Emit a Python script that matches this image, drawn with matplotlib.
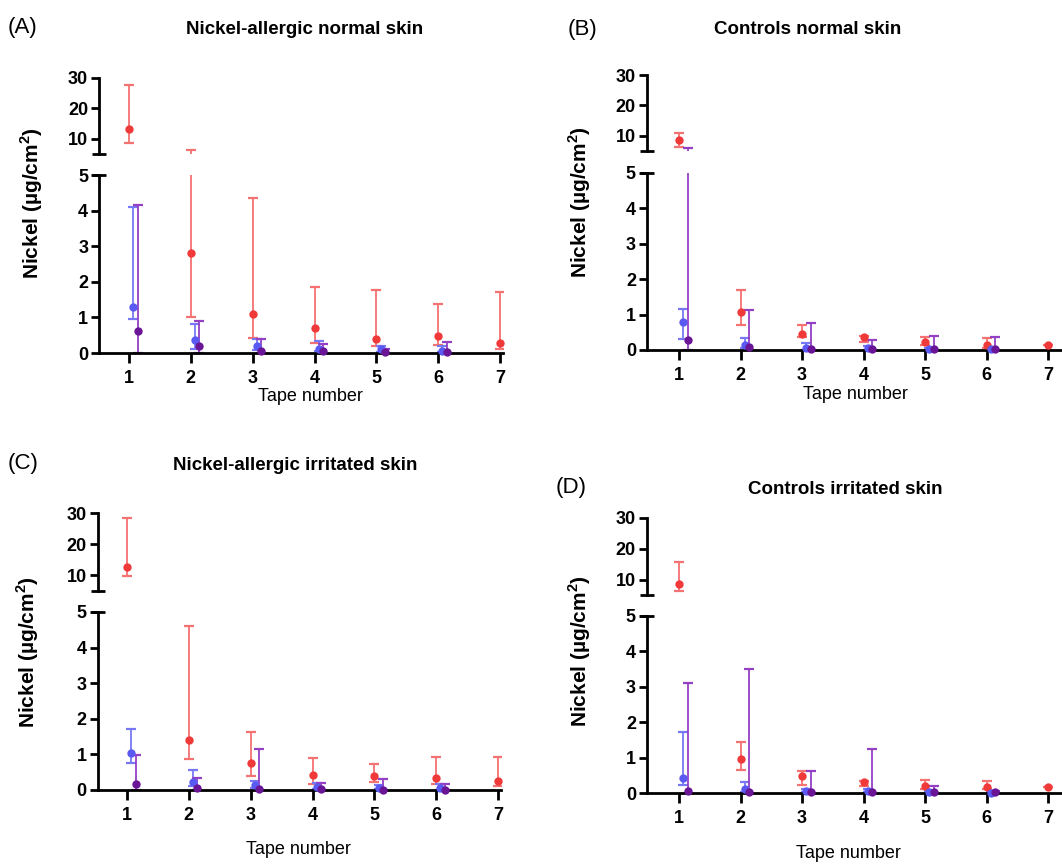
import matplotlib
matplotlib.use("Agg")
import matplotlib.pyplot as plt
import numpy as np

plt.rcParams['font.family'] = ['Liberation Sans', 'DejaVu Sans']
plt.rcParams['mathtext.fontset'] = 'custom'
plt.rcParams['mathtext.rm'] = 'Liberation Sans'
plt.rcParams['mathtext.bf'] = 'Liberation Sans:bold'

# ---------------- data (median, lower, upper) ----------------
tapes_red = [1, 2, 3, 4, 5, 6, 7]
tapes_other = [1, 2, 3, 4, 5, 6]

# Panel A: Nickel-allergic normal skin
A_red = [13.2, 2.80, 1.09, 0.70, 0.39, 0.47, 0.28]
A_red_lo = [8.6, 1.00, 0.43, 0.29, 0.20, 0.22, 0.12]
A_red_hi = [27.8, 6.3, 4.34, 1.86, 1.76, 1.38, 1.70]
A_blue = [1.29, 0.36, 0.20, 0.12, 0.10, 0.07]
A_blue_lo = [0.95, 0.10, 0.08, 0.05, 0.03, 0.02]
A_blue_hi = [4.10, 0.81, 0.38, 0.33, 0.20, 0.20]
A_purp = [0.61, 0.19, 0.07, 0.05, 0.04, 0.04]
A_purp_lo = [0.0, 0.0, 0.0, 0.0, 0.0, 0.0]
A_purp_hi = [4.17, 0.90, 0.40, 0.24, 0.12, 0.31]

# Panel B: Controls normal skin
B_red = [8.7, 1.08, 0.46, 0.38, 0.24, 0.14, 0.13]
B_red_lo = [6.3, 0.72, 0.36, 0.22, 0.15, 0.05, 0.13]
B_red_hi = [10.9, 1.70, 0.72, 0.40, 0.36, 0.33, 0.13]
B_blue = [0.80, 0.15, 0.06, 0.05, 0.03, 0.02]
B_blue_lo = [0.32, 0.05, 0.0, 0.0, 0.0, 0.0]
B_blue_hi = [1.17, 0.35, 0.20, 0.10, 0.06, 0.05]
B_purp = [0.28, 0.09, 0.04, 0.03, 0.02, 0.02]
B_purp_lo = [0.0, 0.0, 0.0, 0.0, 0.0, 0.0]
B_purp_hi = [6.0, 1.13, 0.75, 0.28, 0.39, 0.36]

# Panel C: Nickel-allergic irritated skin
C_red = [12.7, 1.40, 0.75, 0.42, 0.38, 0.33, 0.24]
C_red_lo = [9.7, 0.88, 0.39, 0.17, 0.23, 0.17, 0.12]
C_red_hi = [28.4, 4.62, 1.64, 0.91, 0.72, 0.92, 0.93]
C_blue = [1.05, 0.23, 0.14, 0.08, 0.07, 0.05]
C_blue_lo = [0.77, 0.10, 0.05, 0.02, 0.02, 0.01]
C_blue_hi = [1.72, 0.56, 0.25, 0.20, 0.15, 0.18]
C_purp = [0.16, 0.05, 0.03, 0.02, 0.01, 0.01]
C_purp_lo = [0.0, 0.0, 0.0, 0.0, 0.0, 0.0]
C_purp_hi = [0.98, 0.35, 1.14, 0.20, 0.31, 0.18]

# Panel D: Controls irritated skin
D_red = [8.5, 0.96, 0.47, 0.30, 0.19, 0.18, 0.17]
D_red_lo = [6.2, 0.64, 0.23, 0.19, 0.10, 0.10, 0.17]
D_red_hi = [15.6, 1.44, 0.61, 0.35, 0.38, 0.35, 0.17]
D_blue = [0.41, 0.10, 0.07, 0.07, 0.02, 0.01]
D_blue_lo = [0.23, 0.03, 0.02, 0.02, 0.0, 0.0]
D_blue_hi = [1.71, 0.30, 0.10, 0.10, 0.05, 0.04]
D_purp = [0.07, 0.04, 0.04, 0.03, 0.03, 0.03]
D_purp_lo = [0.0, 0.0, 0.0, 0.0, 0.0, 0.0]
D_purp_hi = [3.12, 3.50, 0.63, 1.25, 0.19, 0.05]

titles = ["Nickel-allergic normal skin", "Controls normal skin",
          "Nickel-allergic irritated skin", "Controls irritated skin"]
letters = ["(A)", "(B)", "(C)", "(D)"]
xtick_labels = ["1", "2", "3", "4", "5", "6", "7"]
top_ticks = [10, 20, 30]
bot_ticks = [0, 1, 2, 3, 4, 5]

RED_M, RED_E = '#F03A3A', '#F47272'
BLUE_M, BLUE_E = '#5A5AF2', '#7878F4'
PURP_M, PURP_E = '#6A1596', '#9340C4'

W, H = 1062, 864
fig = plt.figure(figsize=(W / 100, H / 100), dpi=100)


def fx(px):
    return px / W


def fy(py):
    return 1 - py / H


panels = [
    dict(x1=129, x7=500, xlim=(0.52, 7.05), top30=78, top5=154, bot5=175, bot0=353,
         red=(A_red, A_red_lo, A_red_hi), blue=(A_blue, A_blue_lo, A_blue_hi),
         purp=(A_purp, A_purp_lo, A_purp_hi),
         ylab=(32, 203), xlab=(310, 397), letter=(8, 28), title=(305, 30)),
    dict(x1=679, x7=1048, xlim=(0.48, 7.23), top30=75, top5=151, bot5=173, bot0=350,
         red=(B_red, B_red_lo, B_red_hi), blue=(B_blue, B_blue_lo, B_blue_hi),
         purp=(B_purp, B_purp_lo, B_purp_hi),
         ylab=(580, 202), xlab=(855, 394), letter=(568, 30), title=(808, 30)),
    dict(x1=127, x7=498, xlim=(0.53, 7.05), top30=513, top5=591, bot5=612, bot0=790,
         red=(C_red, C_red_lo, C_red_hi), blue=(C_blue, C_blue_lo, C_blue_hi),
         purp=(C_purp, C_purp_lo, C_purp_hi),
         ylab=(28, 652), xlab=(298, 849), letter=(8, 463), title=(295, 465)),
    dict(x1=679, x7=1048, xlim=(0.48, 7.23), top30=518, top5=595, bot5=616, bot0=793,
         red=(D_red, D_red_lo, D_red_hi), blue=(D_blue, D_blue_lo, D_blue_hi),
         purp=(D_purp, D_purp_lo, D_purp_hi),
         ylab=(580, 651), xlab=(848, 853), letter=(556, 488), title=(845, 490)),
]

offsets = {'red': 0.0, 'blue': 0.07, 'purp': 0.14}
cols = {'red': (RED_M, RED_E), 'blue': (BLUE_M, BLUE_E), 'purp': (PURP_M, PURP_E)}

for i, p in enumerate(panels):
    ppu = (p['x7'] - p['x1']) / 6.0
    left_px = p['x1'] + (p['xlim'][0] - 1) * ppu
    width_px = (p['xlim'][1] - p['xlim'][0]) * ppu
    axb = fig.add_axes([fx(left_px), fy(p['bot0']), width_px / W, (p['bot0'] - p['bot5']) / H])
    axt = fig.add_axes([fx(left_px), fy(p['top5']), width_px / W, (p['top5'] - p['top30']) / H])

    for ax in (axb, axt):
        ax.set_xlim(*p['xlim'])
        for s in ('top', 'right'):
            ax.spines[s].set_visible(False)
        ax.spines['left'].set_linewidth(2.0)
        ax.spines['bottom'].set_linewidth(2.0)
        ax.tick_params(axis='y', direction='out', length=6, width=2.0, pad=2)
    axb.set_ylim(0, 5)
    axt.set_ylim(5, 30)
    axb.set_yticks(bot_ticks)
    axb.set_yticklabels([str(t) for t in bot_ticks], fontweight='bold', fontsize=13)
    axt.set_yticks(top_ticks)
    axt.set_yticklabels([str(t) for t in top_ticks], fontweight='bold', fontsize=13)
    axt.spines['bottom'].set_visible(False)
    axt.set_xticks([])
    axb.set_xticks(tapes_red)
    axb.set_xticklabels(xtick_labels, fontweight='bold', fontsize=13)
    axb.tick_params(axis='x', direction='out', length=7, width=2.0, pad=5)

    # break marks (ticks crossing the spine at both ends of the gap)
    d = 7.0 / width_px
    axt.plot([-d, d], [0, 0], transform=axt.transAxes, color='black', lw=2.0, clip_on=False,
             solid_capstyle='butt')
    axb.plot([-d, d], [1, 1], transform=axb.transAxes, color='black', lw=2.0, clip_on=False,
             solid_capstyle='butt')

    for key in ('red', 'blue', 'purp'):
        med, lo, hi = p[key]
        xs = (tapes_red if key == 'red' else tapes_other)
        xs = np.array(xs, dtype=float) + offsets[key]
        med = np.array(med)
        lo = np.array(lo)
        hi = np.array(hi)
        yerr = np.vstack([med - lo, hi - med])
        mc, ec = cols[key]
        axb.errorbar(xs, med, yerr=yerr, fmt='none', ecolor=ec, elinewidth=1.3,
                     capsize=3.5, capthick=1.6, zorder=2)
        up = hi > 5
        if up.any():
            axt.errorbar(xs[up], med[up], yerr=yerr[:, up], fmt='none', ecolor=ec,
                         elinewidth=1.3, capsize=3.5, capthick=1.6, zorder=2)
        low = med <= 5
        axb.plot(xs[low], med[low], 'o', color=mc, markersize=6, clip_on=False, zorder=3,
                 markeredgewidth=0)
        axt.plot(xs[~low], med[~low], 'o', color=mc, markersize=6, clip_on=False, zorder=3,
                 markeredgewidth=0)

    fig.text(fx(p['ylab'][0]), fy(p['ylab'][1]), r'Nickel (µg/cm$^{\mathbf{2}}$)',
             rotation=90, ha='center', va='center', fontsize=15, fontweight='bold')
    fig.text(fx(p['xlab'][0]), fy(p['xlab'][1]), 'Tape number', ha='center', va='center',
             fontsize=13)
    fig.text(fx(p['letter'][0]), fy(p['letter'][1]), letters[i], ha='left', va='center',
             fontsize=16)
    fig.text(fx(p['title'][0]), fy(p['title'][1]), titles[i], ha='center', va='center',
             fontsize=13.5, fontweight='bold')

fig.savefig('out.png', dpi=100)
